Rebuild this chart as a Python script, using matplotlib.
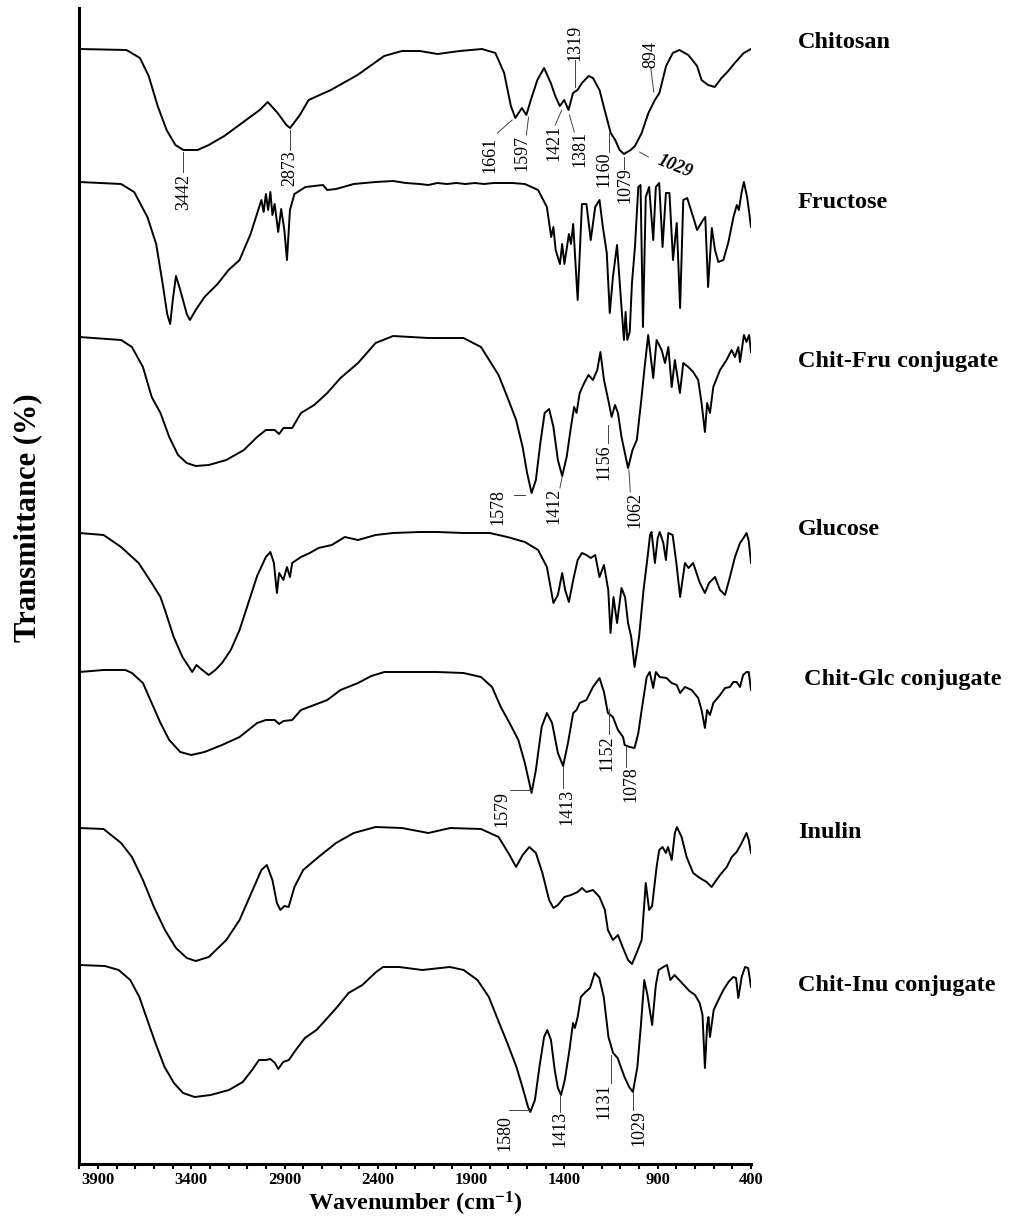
import matplotlib
matplotlib.use("Agg")
import matplotlib.pyplot as plt
from matplotlib.ticker import MultipleLocator, FixedLocator

plt.rcParams["font.family"] = ["Liberation Serif", "DejaVu Serif"]
plt.rcParams["mathtext.fontset"] = "custom"
plt.rcParams["mathtext.bf"] = "Liberation Serif:bold"
plt.rcParams["mathtext.rm"] = "Liberation Serif:bold"
plt.rcParams["mathtext.default"] = "bf"

# FTIR spectra: wavenumber (cm-1) and relative transmittance (0 = left plateau)
chitosan_wn = [4000, 3747, 3675, 3628, 3580, 3532, 3485, 3442, 3366, 3306, 3223, 3128, 3033, 2990, 2937,
               2890, 2870, 2818, 2771, 2652, 2509, 2366, 2271, 2175, 2080, 1961, 1842, 1770, 1723, 1687,
               1663, 1628, 1604, 1580, 1545, 1509, 1473, 1449, 1425, 1401, 1378, 1354, 1330, 1306, 1270,
               1247, 1212, 1176, 1152, 1128, 1104, 1081, 1045, 1022, 986, 950, 915, 891, 855, 819,
               784, 736, 689, 665, 630, 594, 558, 522, 487, 439, 400]
chitosan_t = [0, -1, -9, -27, -57, -81, -96, -101, -101, -96, -87, -74, -61, -53, -64,
              -76, -79, -66, -51, -41, -26, -7, -2, -2, -5, -2, 0, -4, -24, -57,
              -69, -59, -66, -51, -31, -19, -34, -47, -57, -51, -61, -44, -41, -34, -27,
              -29, -41, -67, -84, -91, -101, -105, -101, -97, -84, -64, -51, -44, -17, -4,
              -1, -6, -17, -31, -36, -38, -29, -22, -14, -4, 0]

fructose_wn = [4000, 3776, 3706, 3635, 3588, 3553, 3529, 3513, 3499, 3482, 3459, 3424, 3407, 3376, 3329,
               3259, 3200, 3141, 3082, 3024, 3012, 3000, 2988, 2976, 2965, 2953, 2934, 2918, 2901, 2887,
               2871, 2847, 2788, 2694, 2671, 2624, 2529, 2412, 2318, 2250, 2176, 2129, 2080, 2030, 1980,
               1930, 1880, 1830, 1780, 1730, 1680, 1612, 1541, 1494, 1471, 1459, 1447, 1424, 1412, 1400,
               1376, 1365, 1353, 1329, 1306, 1282, 1259, 1235, 1212, 1194, 1173, 1157, 1140, 1118, 1093,
               1081, 1072, 1063, 1050, 1038, 1022, 1004, 992, 979, 964, 946, 924, 910, 892, 874,
               856, 837, 818, 798, 780, 763, 742, 710, 689, 657, 645, 630, 610, 593, 575,
               548, 521, 494, 476, 465, 450, 438, 421, 410, 400]
fructose_t = [0, -2, -10, -35, -62, -102, -132, -142, -118, -94, -108, -132, -138, -128, -115,
              -102, -88, -78, -52, -18, -30, -12, -28, -10, -33, -22, -50, -27, -48, -78,
              -28, -12, -5, -3, -8, -7, -2, 0, 1, -1, -2, -3, -1, -2, -1,
              -2, -1, -2, -1, -1, -1, -2, -8, -25, -55, -45, -68, -82, -62, -82,
              -52, -62, -42, -118, -22, -22, -58, -25, -18, -45, -71, -131, -95, -63, -128,
              -158, -130, -158, -150, -101, -65, -5, -3, -145, -15, -5, -58, -5, -1, -65,
              -11, -11, -78, -41, -126, -18, -16, -35, -48, -38, -35, -105, -46, -68, -80,
              -78, -60, -35, -23, -28, -10, 0, -15, -30, -45]

chitfru_wn = [4000, 3776, 3718, 3659, 3612, 3565, 3518, 3471, 3424, 3376, 3306, 3212, 3118, 3047, 3000,
              2953, 2929, 2906, 2859, 2812, 2741, 2671, 2600, 2506, 2412, 2318, 2129, 1941, 1847, 1753,
              1706, 1659, 1624, 1600, 1576, 1553, 1529, 1506, 1482, 1459, 1435, 1412, 1388, 1365, 1348,
              1335, 1318, 1294, 1271, 1247, 1224, 1207, 1188, 1165, 1147, 1129, 1113, 1094, 1059, 1035,
              1012, 988, 970, 951, 924, 906, 879, 861, 843, 825, 808, 781, 763, 736, 710,
              683, 665, 647, 635, 620, 602, 566, 531, 504, 486, 468, 459, 438, 424, 410, 400]
chitfru_t = [0, -3, -10, -30, -60, -76, -100, -118, -126, -129, -128, -123, -113, -100, -93,
             -93, -97, -91, -91, -76, -68, -56, -41, -26, -6, 1, -1, -1, -10, -38,
             -60, -83, -110, -136, -156, -143, -106, -76, -72, -90, -123, -139, -120, -90, -70,
             -76, -56, -46, -38, -43, -33, -15, -43, -63, -80, -68, -76, -100, -131, -113,
             -103, -63, -30, 2, -41, -3, -13, -26, -10, -50, -23, -56, -26, -30, -35,
             -43, -66, -95, -66, -76, -50, -33, -23, -13, -20, -10, -25, 2, -5, 2, -15]

glucose_wn = [4000, 3870, 3776, 3682, 3612, 3565, 3541, 3494, 3447, 3412, 3395, 3372, 3341, 3306, 3271,
              3235, 3188, 3141, 3094, 3047, 3000, 2976, 2957, 2941, 2929, 2906, 2887, 2871, 2859, 2812,
              2765, 2718, 2647, 2577, 2506, 2412, 2318, 2176, 2082, 1941, 1800, 1706, 1612, 1541, 1494,
              1459, 1435, 1412, 1396, 1376, 1353, 1329, 1306, 1282, 1259, 1235, 1212, 1188, 1165, 1153,
              1137, 1118, 1094, 1075, 1059, 1042, 1024, 1000, 976, 953, 941, 933, 915, 900, 889,
              870, 856, 843, 820, 800, 780, 754, 735, 710, 674, 647, 625, 593, 566, 539,
              513, 486, 459, 440, 424, 412, 400]
glucose_t = [0, -2, -14, -30, -50, -64, -77, -104, -124, -134, -139, -132, -137, -142, -137,
             -130, -117, -97, -70, -43, -24, -19, -30, -60, -40, -47, -34, -44, -30, -24,
             -20, -15, -12, -4, -7, -2, 0, 1, 1, 0, 0, -4, -9, -17, -34,
             -70, -62, -40, -57, -69, -47, -27, -20, -22, -25, -22, -44, -32, -57, -100,
             -64, -90, -55, -64, -90, -104, -134, -104, -57, -22, -2, 1, -30, -5, 1,
             -10, -27, 0, -2, -30, -64, -30, -35, -30, -50, -60, -50, -44, -57, -62,
             -44, -24, -10, -5, 0, -8, -30]

chitglc_wn = [4000, 3870, 3753, 3718, 3659, 3612, 3565, 3518, 3459, 3400, 3329, 3235, 3141, 3047, 3000,
              2953, 2929, 2906, 2859, 2812, 2741, 2671, 2600, 2506, 2435, 2365, 2224, 2082, 1941, 1847,
              1788, 1741, 1694, 1647, 1612, 1576, 1553, 1522, 1494, 1466, 1435, 1407, 1381, 1353, 1335,
              1318, 1282, 1247, 1212, 1188, 1167, 1140, 1113, 1086, 1077, 1050, 1024, 1004, 986, 959,
              943, 924, 910, 889, 853, 825, 798, 780, 754, 718, 683, 665, 647, 635, 620,
              602, 566, 539, 513, 495, 477, 459, 442, 424, 412, 400]
chitglc_t = [0, 2, 2, -1, -11, -31, -51, -68, -80, -83, -80, -73, -65, -51, -48,
             -48, -52, -49, -48, -38, -33, -28, -18, -11, -4, 0, 0, 0, -1, -5,
             -15, -35, -51, -68, -91, -121, -98, -55, -41, -51, -81, -94, -71, -41, -38,
             -31, -28, -15, -6, -20, -41, -45, -58, -65, -73, -75, -76, -61, -38, -5,
             0, -16, 0, -5, -6, -11, -13, -21, -15, -18, -26, -38, -56, -38, -43,
             -31, -23, -16, -15, -10, -10, -15, -3, 0, 0, -18]

inulin_wn = [4000, 3870, 3776, 3718, 3659, 3600, 3541, 3482, 3424, 3376, 3306, 3212, 3141, 3071, 3024,
             2995, 2965, 2941, 2922, 2901, 2878, 2847, 2800, 2718, 2624, 2529, 2412, 2271, 2129, 2012,
             1847, 1753, 1694, 1659, 1624, 1588, 1553, 1518, 1482, 1459, 1435, 1400, 1365, 1329, 1306,
             1282, 1247, 1212, 1183, 1167, 1140, 1113, 1086, 1059, 1038, 1013, 986, 964, 946, 930,
             906, 892, 874, 856, 845, 825, 808, 797, 772, 745, 710, 674, 638, 611, 593,
             566, 530, 503, 477, 450, 424, 412, 400]
inulin_t = [0, -1, -15, -29, -52, -79, -102, -120, -130, -133, -129, -112, -92, -62, -42,
            -37, -52, -75, -82, -78, -79, -59, -42, -29, -15, -5, 1, 0, -5, 0,
            -1, -9, -27, -39, -27, -19, -25, -45, -72, -80, -77, -69, -67, -64, -60,
            -64, -62, -69, -82, -102, -112, -107, -120, -132, -136, -125, -112, -55, -82, -78,
            -39, -22, -19, -25, -19, -32, -5, 1, -9, -29, -45, -50, -54, -59, -54,
            -47, -39, -29, -24, -15, -5, -12, -25]

chitinu_wn = [4000, 3863, 3789, 3727, 3678, 3641, 3592, 3543, 3493, 3444, 3382, 3296, 3198, 3124, 3074,
              3037, 3000, 2976, 2951, 2934, 2907, 2877, 2840, 2791, 2729, 2680, 2618, 2557, 2483, 2409,
              2372, 2286, 2162, 2014, 1940, 1866, 1805, 1756, 1706, 1657, 1625, 1595, 1583, 1558, 1534,
              1509, 1492, 1472, 1452, 1435, 1418, 1398, 1373, 1354, 1344, 1329, 1312, 1287, 1263, 1238,
              1213, 1189, 1164, 1139, 1115, 1078, 1053, 1033, 1009, 990, 972, 955, 930, 910, 895,
              870, 850, 832, 810, 790, 760, 730, 700, 675, 660, 647, 635, 628, 620, 600,
              575, 548, 521, 495, 480, 468, 450, 432, 415, 400]
chitinu_t = [0, -1, -5, -15, -32, -52, -78, -102, -118, -128, -132, -130, -125, -117, -105,
             -95, -95, -94, -98, -104, -97, -95, -85, -73, -65, -55, -42, -28, -20, -7,
             -2, -2, -5, -2, -5, -15, -32, -55, -78, -102, -122, -142, -147, -135, -102,
             -72, -65, -75, -105, -123, -130, -115, -85, -58, -63, -52, -32, -27, -23, -8,
             -13, -32, -72, -88, -93, -112, -122, -127, -102, -60, -15, -30, -60, -20, -5,
             -2, 0, -15, -10, -14, -20, -26, -30, -38, -50, -103, -60, -52, -72, -45,
             -35, -25, -17, -12, -13, -33, -12, -2, -3, -22]

names = ["Chitosan", "Fructose", "Chit-Fru conjugate", "Glucose",
         " Chit-Glc conjugate", "Inulin", "Chit-Inu conjugate"]
spectra = [(chitosan_wn, chitosan_t), (fructose_wn, fructose_t), (chitfru_wn, chitfru_t),
           (glucose_wn, glucose_t), (chitglc_wn, chitglc_t), (inulin_wn, inulin_t),
           (chitinu_wn, chitinu_t)]

# vertical stacking of the curves and the label heights (figure pixels from top)
offsets = [1115, 982, 827, 631, 492, 336, 199]
name_y = [43, 203, 362, 530, 679, 832, 985]

# peak labels: text, text x, text y, leader start, leader end
peaks = [
    ("3442", 3442, 972, (3442, 1012), (3442, 992)),
    ("2873", 2871, 996, (2871, 1034), (2871, 1014)),
    ("1661", 1799, 1009, (1759, 1031), (1680, 1044)),
    ("1597", 1628, 1011, (1604, 1029), (1592, 1047)),
    ("1421", 1456, 1021, (1449, 1039), (1414, 1054)),
    ("1381", 1318, 1015, (1347, 1032), (1373, 1049)),
    ("1319", 1342, 1121, (1342, 1104), (1342, 1077)),
    ("1160", 1187, 995, (1163, 1031), (1163, 1012)),
    ("1079", 1075, 979, (1080, 1007), (1080, 995)),
    ("894", 937, 1109, (937, 1096), (921, 1072)),
    ("1578", 1758, 657, (1670, 669), (1612, 669)),
    ("1412", 1454, 658, (1424, 676), (1412, 687)),
    ("1156", 1188, 702, (1165, 739), (1165, 721)),
    ("1062", 1024, 654, (1054, 694), (1047, 672)),
    ("1579", 1734, 355, (1694, 374), (1576, 374)),
    ("1413", 1388, 357, (1407, 397), (1407, 376)),
    ("1152", 1172, 411, (1160, 455), (1160, 430)),
    ("1078", 1045, 380, (1071, 417), (1071, 397)),
    ("1580", 1719, 31, (1699, 54), (1590, 54)),
    ("1413", 1423, 35, (1423, 68), (1423, 52)),
    ("1131", 1189, 63, (1152, 109), (1152, 81)),
    ("1029", 999, 36, (1033, 71), (1033, 54)),
]

W, H = 1027, 1221
fig = plt.figure(figsize=(W / 100, H / 100), dpi=100)
ax = fig.add_axes([79.3 / W, 57 / H, 671.7 / W, 1156 / H])

for (wn, t), off in zip(spectra, offsets):
    ax.plot(wn, [off + v for v in t], color="black", lw=1.4, solid_joinstyle="round")

for txt, tx, ty, p0, p1 in peaks:
    ax.plot([p0[0], p1[0]], [p0[1], p1[1]], color="#444444", lw=0.7)
    ax.text(tx, ty, txt, rotation=90, ha="center", va="center", fontsize=13)

# the slanted bold italic label on chitosan
ax.plot([997, 950], [1012, 1007], color="#444444", lw=0.7)
ax.text(806, 997, "1029", rotation=-22, ha="center", va="center", fontsize=13,
        fontweight="bold", fontstyle="italic")

for name, y in zip(names, name_y):
    fig.text(798 / W, 1 - y / H, name, ha="left", va="center", fontsize=17.5, fontweight="bold")

ax.set_xlim(4000, 400)
ax.set_ylim(0, 1156)
ax.xaxis.set_major_locator(FixedLocator([3900, 3400, 2900, 2400, 1900, 1400, 900, 400]))
ax.xaxis.set_minor_locator(MultipleLocator(100))
ax.tick_params(axis="x", which="both", direction="out", length=3.6, width=1.5, pad=2.5,
               labelsize=12)
for lab in ax.get_xticklabels():
    lab.set_fontweight("bold")
ax.set_yticks([])

for side in ["top", "right"]:
    ax.spines[side].set_visible(False)
for side in ["left", "bottom"]:
    ax.spines[side].set_linewidth(2.2)

ax.set_xlabel("Wavenumber (cm$^{-1}$)", fontsize=17.5, fontweight="bold", va="top")
ax.xaxis.set_label_coords(0.5, -0.0225)
ax.set_ylabel("Transmittance (%)", fontsize=22, fontweight="bold", va="center")
ax.yaxis.set_label_coords(-0.0764, 0.5588)

fig.savefig("out.png", dpi=100)
